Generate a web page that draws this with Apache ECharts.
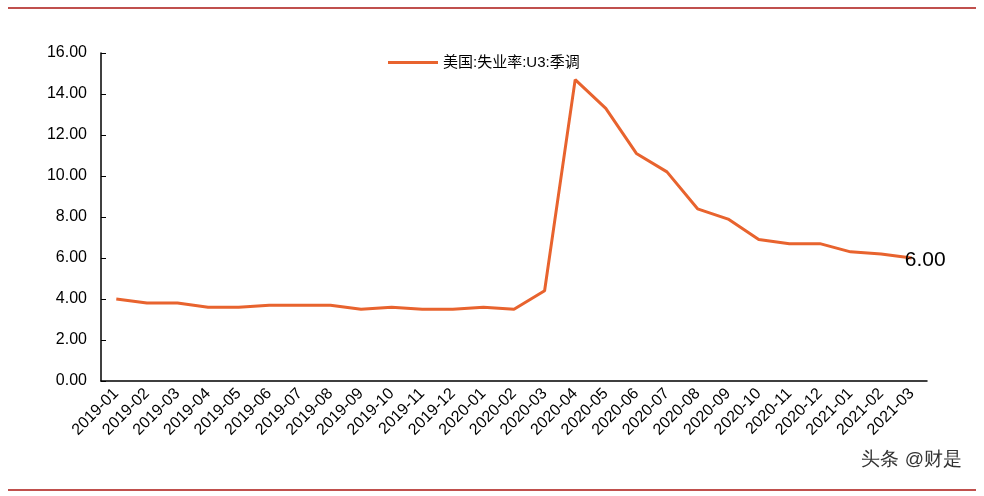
<!DOCTYPE html>
<html>
<head>
<meta charset="utf-8">
<script src="https://cdn.jsdelivr.net/npm/echarts@6/dist/echarts.min.js"></script>
<style>
html, body { margin: 0; padding: 0; background: #fff; }
#chart { width: 984px; height: 496px; }
.rule { position: absolute; left: 8px; right: 8px; height: 2px; background: #c0504d; }
</style>
</head>
<body>
<div class="rule" style="top:7px"></div>
<div class="rule" style="top:489px"></div>
<div id="chart"></div>
<script>
// Data
var months = [
    '2019-01', '2019-02', '2019-03', '2019-04', '2019-05', '2019-06', '2019-07',
    '2019-08', '2019-09', '2019-10', '2019-11', '2019-12', '2020-01', '2020-02',
    '2020-03', '2020-04', '2020-05', '2020-06', '2020-07', '2020-08', '2020-09',
    '2020-10', '2020-11', '2020-12', '2021-01', '2021-02', '2021-03'
];
var u3Rate = [
    4.0, 3.8, 3.8, 3.6, 3.6, 3.7, 3.7, 3.7, 3.5, 3.6, 3.5, 3.5, 3.6, 3.5,
    4.4, 14.7, 13.3, 11.1, 10.2, 8.4, 7.9, 6.9, 6.7, 6.7, 6.3, 6.2, 6.0
];
var seriesName = '美国:失业率:U3:季调';

var chart = echarts.init(document.getElementById('chart'));

var lastIdx = u3Rate.length - 1;

var option = {
    animation: false,
    textStyle: { fontFamily: 'Arial, "Liberation Sans", "Noto Sans CJK SC", sans-serif' },
    legend: {
        top: 50,
        left: 383,
        itemWidth: 50,
        itemHeight: 3,
        icon: 'rect',
        textStyle: { fontSize: 15, color: '#000' },
        data: [seriesName]
    },
    grid: { left: 101, right: 57, top: 53, bottom: 115 },
    xAxis: {
        type: 'category',
        data: months,
        boundaryGap: true,
        axisLine: { lineStyle: { color: '#000', width: 1.5 } },
        axisTick: { inside: true, length: 5, lineStyle: { color: '#000' } },
        axisLabel: { rotate: 45, color: '#000', fontSize: 16, interval: 0, margin: 10 }
    },
    yAxis: {
        type: 'value',
        min: 0,
        max: 16,
        interval: 2,
        axisLine: { show: true, lineStyle: { color: '#000', width: 1.5 } },
        axisTick: { show: true, inside: true, length: 5, lineStyle: { color: '#000' } },
        splitLine: { show: false },
        axisLabel: {
            color: '#000', fontSize: 16, margin: 14,
            formatter: function(v) { return v.toFixed(2); }
        }
    },
    series: [{
        name: seriesName,
        type: 'line',
        data: u3Rate,
        symbol: 'none',
        lineStyle: { color: '#e8632e', width: 3 },
        itemStyle: { color: '#e8632e' },
        markPoint: {
            symbol: 'circle',
            symbolSize: 0,
            data: [{ coord: [lastIdx, u3Rate[lastIdx]], value: u3Rate[lastIdx] }],
            label: {
                show: true,
                position: 'right',
                offset: [-12, 2],
                fontSize: 21,
                color: '#000',
                formatter: function(p) { return p.value.toFixed(2); }
            }
        }
    }],
    graphic: [{
        type: 'text',
        right: 22,
        top: 450,
        style: { text: '头条 @财是', fontSize: 19, fill: '#333' }
    }]
};

chart.setOption(option);
</script>
</body>
</html>
